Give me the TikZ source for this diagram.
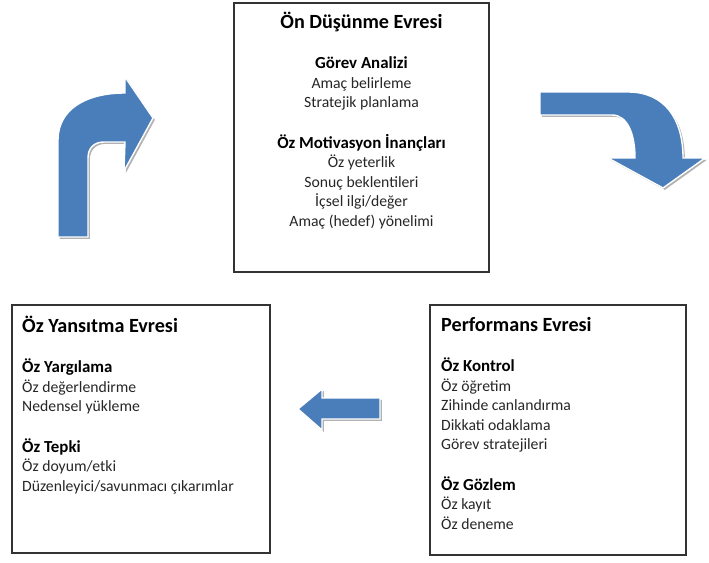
\documentclass[tikz,border=0pt]{standalone}
\usepackage{fontspec}
\setmainfont{Carlito}
\usetikzlibrary{fit}
\definecolor{okmavi}{RGB}{74,126,187}
\definecolor{yazigri}{RGB}{38,38,38}
\newcommand{\evre}[1]{{\fontsize{17.2}{16.6}\selectfont\bfseries\color{black}#1}}
\newcommand{\baslik}[1]{{\fontsize{14.4}{16.6}\selectfont\bfseries\color{black}#1}}
\tikzset{
  evrekutu/.style={draw=black!80, line width=0.9pt, inner sep=0pt},
  evreyazi/.style={inner sep=0pt, text=yazigri, font=\fontsize{13.4}{16.6}\selectfont},
  blokok/.style={fill=okmavi, draw=white, line width=1.2pt, line join=miter,
    preaction={fill=black!30, transform canvas={shift={(1.6pt,-1.6pt)}}}}
}
\begin{document}
\begin{tikzpicture}[x=0.03cm,y=-0.03cm]
    \useasboundingbox (0,0) rectangle (709,562);
    % kutular
    \node[evrekutu, fit={(234,3) (489,272)}] (onkutu) {};
    \node[evrekutu, fit={(12,305) (270,553)}] (yansitma) {};
    \node[evrekutu, fit={(430,305) (686,555)}] (performans) {};
    % metinler (base = son satir)
    \node[evreyazi, align=center, anchor=base] (onyazi) at (361.5,226)
      {\evre{Ön Düşünme Evresi}\\[17.4pt]
       \baslik{Görev Analizi}\\
       Amaç belirleme\\
       Stratejik planlama\\[18pt]
       \baslik{Öz Motivasyon İnançları}\\
       Öz yeterlik\\
       Sonuç beklentileri\\
       İçsel ilgi/değer\\
       Amaç (hedef) yönelimi};
    \node[evreyazi, align=left, anchor=base west] (yansitmayazi) at (22,491)
      {\evre{Öz Yansıtma Evresi}\\[17.4pt]
       \baslik{Öz Yargılama}\\
       Öz değerlendirme\\
       Nedensel yükleme\\[18pt]
       \baslik{Öz Tepki}\\
       Öz doyum/etki\\
       Düzenleyici/savunmacı çıkarımlar};
    \node[evreyazi, align=left, anchor=base west] (performansyazi) at (441,529)
      {\evre{Performans Evresi}\\[17.4pt]
       \baslik{Öz Kontrol}\\
       Öz öğretim\\
       Zihinde canlandırma\\
       Dikkati odaklama\\
       Görev stratejileri\\[18pt]
       \baslik{Öz Gözlem}\\
       Öz kayıt\\
       Öz deneme};
    % oklar
    \path[blokok] (58,237) -- (58,140) .. controls (58,110) and (85,93) .. (125,93)
      -- (125,77) -- (153,118) -- (124,171) -- (125,142) -- (104,142)
      .. controls (94,142) and (88,148) .. (88,158) -- (88,237) -- cycle;
    \path[blokok] (540,92) -- (628,92) .. controls (664,92) and (683,118) .. (683,158)
      -- (705,158) -- (663,188) -- (608,158) -- (635,158)
      .. controls (635,135) and (628,115) .. (612,115) -- (540,115) -- cycle;
    \path[blokok] (380,398) -- (322,398) -- (322,389) -- (298,409)
      -- (322,430) -- (322,419) -- (380,419) -- cycle;
\end{tikzpicture}
\end{document}
